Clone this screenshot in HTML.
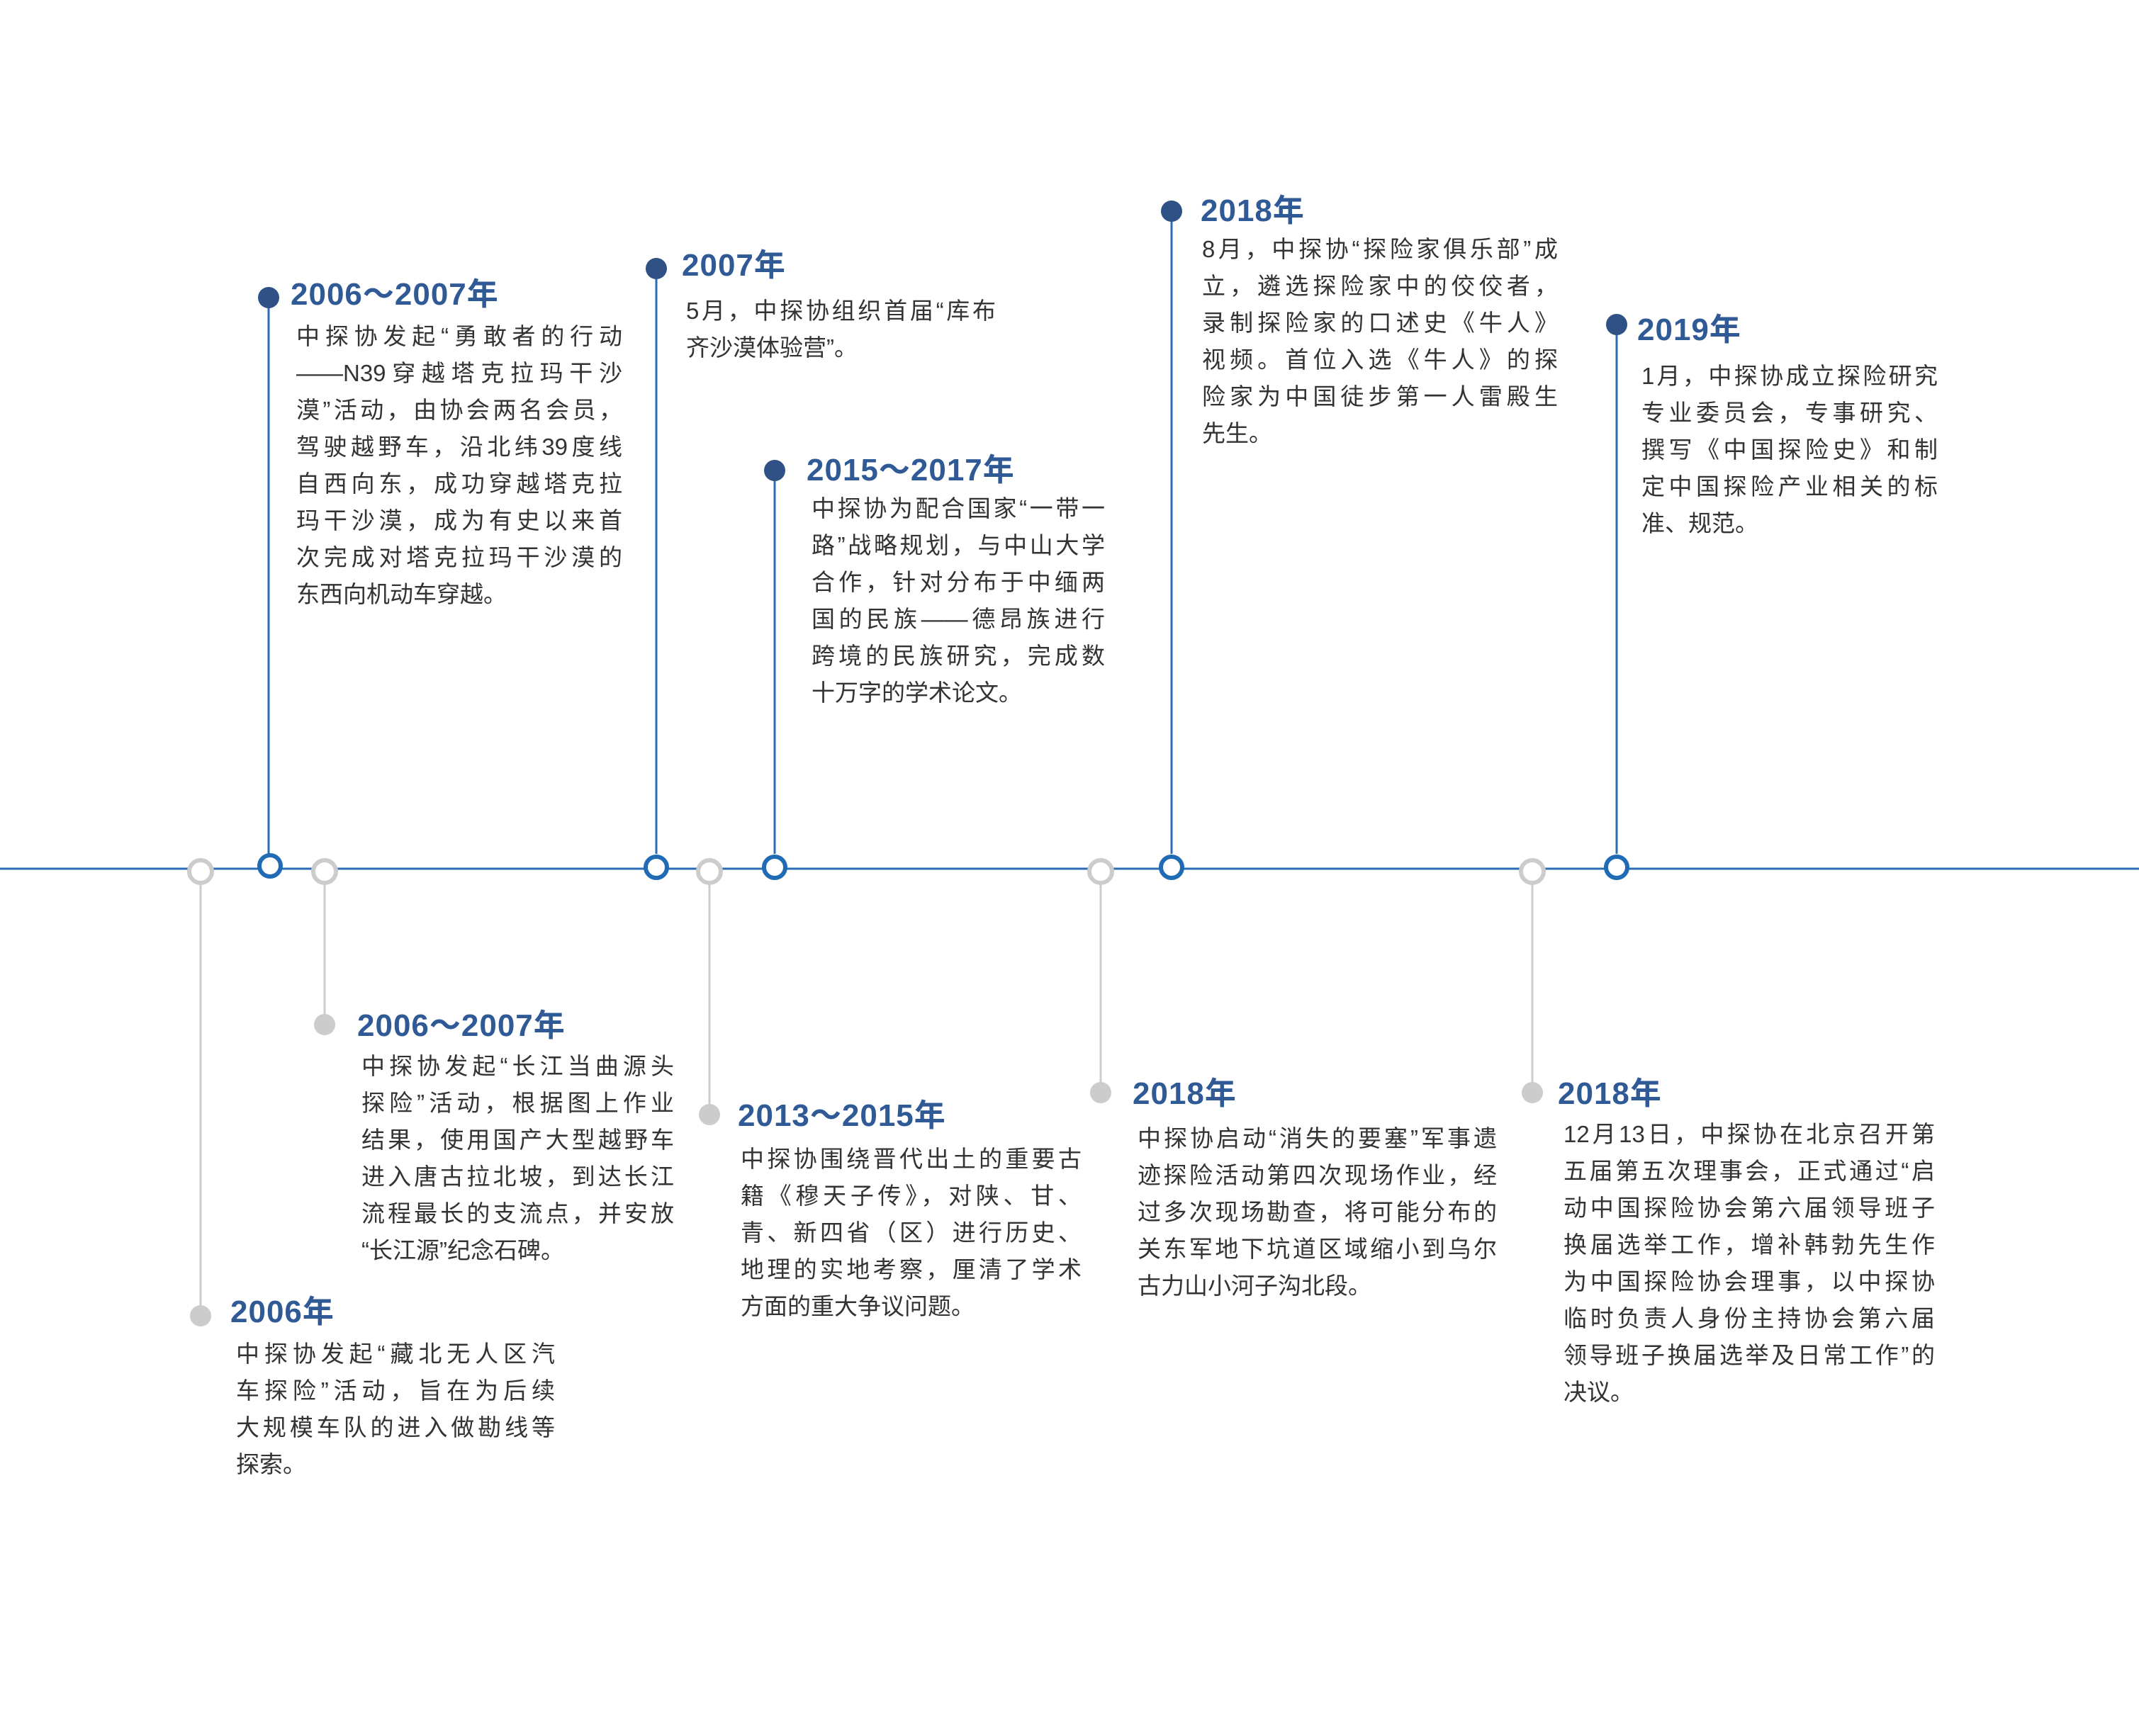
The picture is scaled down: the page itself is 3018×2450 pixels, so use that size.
<!DOCTYPE html>
<html><head><meta charset="utf-8"><style>
html,body{margin:0;padding:0;background:#fff;}
body{width:3018px;height:2450px;position:relative;overflow:hidden;font-family:"Liberation Sans","Noto Sans CJK SC",sans-serif;}
svg{position:absolute;left:0;top:0;}
.t{position:absolute;color:#2f5a96;font-size:44px;font-weight:bold;line-height:50px;white-space:nowrap;letter-spacing:1px;}
.b{position:absolute;color:#333;font-size:33px;line-height:52px;}
.b div{white-space:nowrap;}
.b .j{text-align:justify;text-align-last:justify;white-space:normal;}
</style></head><body>
<svg width="3018" height="2450">
<line x1="0" y1="1226" x2="3018" y2="1226" stroke="#2a6db5" stroke-width="3"/>
<g stroke="#2a6db5" stroke-width="3">
<line x1="379" y1="420" x2="379" y2="1205"/>
<line x1="926" y1="379" x2="926" y2="1205"/>
<line x1="1093" y1="664" x2="1093" y2="1205"/>
<line x1="1653" y1="298" x2="1653" y2="1205"/>
<line x1="2281" y1="458" x2="2281" y2="1205"/>
</g>
<g stroke="#cccccc" stroke-width="3">
<line x1="283" y1="1245" x2="283" y2="1857"/>
<line x1="458" y1="1245" x2="458" y2="1446"/>
<line x1="1001" y1="1245" x2="1001" y2="1573"/>
<line x1="1553" y1="1245" x2="1553" y2="1542"/>
<line x1="2162" y1="1245" x2="2162" y2="1542"/>
</g>
<g fill="#2f5185">
<circle cx="379" cy="420" r="15"/><circle cx="926" cy="379" r="15"/><circle cx="1093" cy="664" r="15"/><circle cx="1653" cy="298" r="15"/><circle cx="2281" cy="458" r="15"/>
</g>
<g fill="#cccccc">
<circle cx="283" cy="1857" r="15"/><circle cx="458" cy="1446" r="15"/><circle cx="1001" cy="1573" r="15"/><circle cx="1553" cy="1542" r="15"/><circle cx="2162" cy="1542" r="15"/>
</g>
<g fill="#fff" stroke="#cccccc" stroke-width="6">
<circle cx="283" cy="1230" r="16"/><circle cx="458" cy="1230" r="16"/><circle cx="1001" cy="1230" r="16"/><circle cx="1553" cy="1230" r="16"/><circle cx="2162" cy="1230" r="16"/>
</g>
<g fill="#fff" stroke="#1f6bb5" stroke-width="6">
<circle cx="381" cy="1222" r="15"/><circle cx="926" cy="1224" r="15"/><circle cx="1093" cy="1224" r="15"/><circle cx="1653" cy="1224" r="15"/><circle cx="2281" cy="1224" r="15"/>
</g>
</svg>

<div class="t" style="left:410px;top:391px">2006～2007年</div>
<div class="b" style="left:418px;top:449px;width:460px">
<div class="j">中探协发起“勇敢者的行动</div><div class="j">——N39穿越塔克拉玛干沙</div><div class="j">漠”活动，由协会两名会员，</div><div class="j">驾驶越野车，沿北纬39度线</div><div class="j">自西向东，成功穿越塔克拉</div><div class="j">玛干沙漠，成为有史以来首</div><div class="j">次完成对塔克拉玛干沙漠的</div><div>东西向机动车穿越。</div></div>

<div class="t" style="left:962px;top:350px">2007年</div>
<div class="b" style="left:968px;top:413px;width:437px">
<div class="j">5月，中探协组织首届“库布</div><div>齐沙漠体验营”。</div></div>

<div class="t" style="left:1138px;top:639px">2015～2017年</div>
<div class="b" style="left:1145px;top:692px;width:414px">
<div class="j">中探协为配合国家“一带一</div><div class="j">路”战略规划，与中山大学</div><div class="j">合作，针对分布于中缅两</div><div class="j">国的民族——德昂族进行</div><div class="j">跨境的民族研究，完成数</div><div>十万字的学术论文。</div></div>

<div class="t" style="left:1694px;top:273px">2018年</div>
<div class="b" style="left:1696px;top:326px;width:502px">
<div class="j">8月，中探协“探险家俱乐部”成</div><div class="j">立，遴选探险家中的佼佼者，</div><div class="j">录制探险家的口述史《牛人》</div><div class="j">视频。首位入选《牛人》的探</div><div class="j">险家为中国徒步第一人雷殿生</div><div>先生。</div></div>

<div class="t" style="left:2310px;top:441px">2019年</div>
<div class="b" style="left:2316px;top:505px;width:418px">
<div class="j">1月，中探协成立探险研究</div><div class="j">专业委员会，专事研究、</div><div class="j">撰写《中国探险史》和制</div><div class="j">定中国探险产业相关的标</div><div>准、规范。</div></div>

<div class="t" style="left:325px;top:1827px">2006年</div>
<div class="b" style="left:333px;top:1885px;width:450px">
<div class="j">中探协发起“藏北无人区汽</div><div class="j">车探险”活动，旨在为后续</div><div class="j">大规模车队的进入做勘线等</div><div>探索。</div></div>

<div class="t" style="left:504px;top:1423px">2006～2007年</div>
<div class="b" style="left:510px;top:1479px;width:441px">
<div class="j">中探协发起“长江当曲源头</div><div class="j">探险”活动，根据图上作业</div><div class="j">结果，使用国产大型越野车</div><div class="j">进入唐古拉北坡，到达长江</div><div class="j">流程最长的支流点，并安放</div><div>“长江源”纪念石碑。</div></div>

<div class="t" style="left:1041px;top:1550px">2013～2015年</div>
<div class="b" style="left:1045px;top:1610px;width:481px">
<div class="j">中探协围绕晋代出土的重要古</div><div class="j">籍《穆天子传》，对陕、甘、</div><div class="j">青、新四省（区）进行历史、</div><div class="j">地理的实地考察，厘清了学术</div><div>方面的重大争议问题。</div></div>

<div class="t" style="left:1598px;top:1519px">2018年</div>
<div class="b" style="left:1605px;top:1581px;width:507px">
<div class="j">中探协启动“消失的要塞”军事遗</div><div class="j">迹探险活动第四次现场作业，经</div><div class="j">过多次现场勘查，将可能分布的</div><div class="j">关东军地下坑道区域缩小到乌尔</div><div>古力山小河子沟北段。</div></div>

<div class="t" style="left:2198px;top:1519px">2018年</div>
<div class="b" style="left:2206px;top:1575px;width:524px">
<div class="j">12月13日，中探协在北京召开第</div><div class="j">五届第五次理事会，正式通过“启</div><div class="j">动中国探险协会第六届领导班子</div><div class="j">换届选举工作，增补韩勃先生作</div><div class="j">为中国探险协会理事，以中探协</div><div class="j">临时负责人身份主持协会第六届</div><div class="j">领导班子换届选举及日常工作”的</div><div>决议。</div></div>
</body></html>
